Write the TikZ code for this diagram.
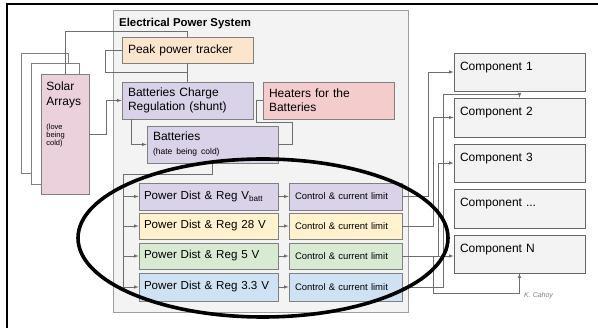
\documentclass[tikz,border=0pt]{standalone}
\usepackage{fontspec}
\setmainfont{Liberation Sans}

\definecolor{epsgray}{HTML}{F3F3F3}
\definecolor{epsline}{HTML}{9E9E9E}
\definecolor{boxline}{HTML}{808080}
\definecolor{compline}{HTML}{666666}
\definecolor{wirecol}{HTML}{6E6E6E}
\definecolor{lorange}{HTML}{FCE5CD}
\definecolor{lpurple}{HTML}{D9D2E9}
\definecolor{lred}{HTML}{F4CCCC}
\definecolor{lmagenta}{HTML}{EAD1DC}
\definecolor{lyellow}{HTML}{FFF2CC}
\definecolor{lgreen}{HTML}{D9EAD3}
\definecolor{lblue}{HTML}{CFE2F3}

\tikzset{
  blk/.style={draw=boxline, line width=0.6pt, align=left, inner xsep=6pt,
    inner ysep=0pt, font=\fontsize{12}{14}\selectfont},
  panel/.style={draw=boxline, line width=0.6pt, inner sep=0pt},
  ctl/.style={blk, text width=101pt, font=\fontsize{9.5}{11}\selectfont},
  pdist/.style={blk, inner xsep=5pt, text width=129pt, font=\fontsize{11.6}{14}\selectfont},
  comp/.style={blk, draw=compline, fill=epsgray, text width=119pt,
    minimum height=38pt, text height=9pt, text depth=12pt},
  wire/.style={draw=wirecol, line width=0.6pt},
  arr/.style={wire, -latex}
}

\begin{document}
\begin{tikzpicture}[x=1pt,y=-1pt]

\useasboundingbox (0,0) rectangle (598,328);

% Frame
\draw[line width=1.2pt] (7,328) -- (7,4) -- (598,4);

% Solar arrays
\node[panel, fill=white, minimum width=47pt, minimum height=120pt] (saback) at (44.5,113) {};
\node[panel, fill=white, minimum width=48pt, minimum height=121pt] (samid) at (55,123.5) {};
\node[panel, fill=lmagenta, minimum width=48pt, minimum height=120pt] (sa) at (65,134) {};
\node[anchor=north west, align=left, inner sep=0pt, font=\fontsize{12}{14.5}\selectfont]
  (satxt) at ([xshift=5.5pt,yshift=-8pt]sa.north west) {Solar\\Arrays};
\node[anchor=north west, align=left, inner sep=0pt, font=\fontsize{7.5}{8}\selectfont]
  (sanote) at ([xshift=5.5pt,yshift=-50pt]sa.north west) {(love\\being\\cold)};

% Electrical Power System
\node[draw=epsline, fill=epsgray, line width=0.6pt, inner sep=0pt,
  minimum width=295pt, minimum height=302pt] (eps) at (260.5,161) {};
\node[anchor=base west, inner sep=0pt, font=\fontsize{11.4}{13}\selectfont\bfseries]
  (epstitle) at (119,27) {Electrical Power System};

\node[blk, fill=lorange, text width=119pt, minimum height=26pt] (ppt) at (187.5,50) {Peak power tracker};
\node[blk, fill=lpurple, text width=119pt, minimum height=37pt] (bcr) at (187.5,100.5) {Batteries Charge\\Regulation (shunt)};
\node[blk, fill=lred, text width=119pt, minimum height=37pt] (heat) at (328.5,100.5) {Heaters for the\\Batteries};
\node[blk, fill=lpurple, text width=119pt, minimum height=37pt] (bat) at (212.5,144.5)
  {Batteries\\\fontsize{8.5}{10}\selectfont(hate being cold)};

% Power distribution
\node[pdist, fill=lpurple, minimum height=27pt] (pdA) at (208.5,196.5) {Power Dist \& Reg V\textsubscript{batt}};
\node[pdist, fill=lyellow, minimum height=26pt] (pdB) at (208.5,226) {Power Dist \& Reg 28 V};
\node[pdist, fill=lgreen, minimum height=26pt] (pdC) at (208.5,256) {Power Dist \& Reg 5 V};
\node[pdist, fill=lblue, minimum height=28pt] (pdD) at (208.5,287) {Power Dist \& Reg 3.3 V};

\node[ctl, fill=lpurple, minimum height=27pt] (cclA) at (345.5,196.5) {Control \& current limit};
\node[ctl, fill=lyellow, minimum height=26pt] (cclB) at (345.5,226) {Control \& current limit};
\node[ctl, fill=lgreen, minimum height=26pt] (cclC) at (345.5,256) {Control \& current limit};
\node[ctl, fill=lblue, minimum height=28pt] (cclD) at (345.5,287) {Control \& current limit};

% Components
\node[comp] (c1) at (519.5,72) {Component 1};
\node[comp, minimum height=39pt] (c2) at (519.5,117.5) {Component 2};
\node[comp] (c3) at (519.5,163) {Component 3};
\node[comp, minimum height=39pt] (c4) at (519.5,208.5) {Component ...};
\node[comp] (cN) at (519.5,254) {Component N};

\node[anchor=west, inner sep=0pt, text=gray, font=\fontsize{7}{8}\selectfont\itshape]
  (sig) at (524,296) {K. Cahoy};

% Connectors
\draw[wire] (sa.north) -- ++(0,-42) -| (ppt.north);
\draw[wire] (ppt.south) -- (bcr.north);
\draw[wire] (ppt.west) -- ++(-16,0) -- ++(0,22) -| (bcr.north);
\draw[arr] (sa.east) -- ++(17,0) |- (bcr.west);
\draw[arr] ([xshift=-56.5pt]bcr.south) |- (bat.west);
\draw[wire] (heat.west) -- ++(-6,0) -- ++(0,21.5) -- ++(36,0) |- (bat.east);

\coordinate (bus) at (123,174);
\draw[wire] (bat.south) |- (bus) -- (bus |- pdD.west);
\draw[arr] (bus |- pdA.west) -- (pdA.west);
\draw[arr] (bus |- pdB.west) -- (pdB.west);
\draw[arr] (bus |- pdC.west) -- (pdC.west);
\draw[arr] (bus |- pdD.west) -- (pdD.west);

\draw[arr] (pdA.east) -- (cclA.west);
\draw[arr] (pdB.east) -- (cclB.west);
\draw[arr] (pdC.east) -- (cclC.west);
\draw[arr] (pdD.east) -- (cclD.west);

\draw[arr] (cclA.east) -- ++(26,0) |- (c1.west);
\draw[arr] (cclB.east) -- ++(31,0) |- (c2.west);
\draw[arr] (cclC.east) -- (cclC.east -| cN.west);
\draw[arr] (cclC.east) -- ++(36,0) |- (c3.west);
\draw[arr] (cclC.east) -- ++(31,0) -- ++(0,37) -| (cN.south);
\draw[arr] (cclD.east) -- ++(41,0) -- ++(0,-193) -| (c2.north);

% Ellipse
\draw[line width=3.6pt] (263,238) ellipse [x radius=185pt, y radius=79pt];

\end{tikzpicture}
\end{document}
